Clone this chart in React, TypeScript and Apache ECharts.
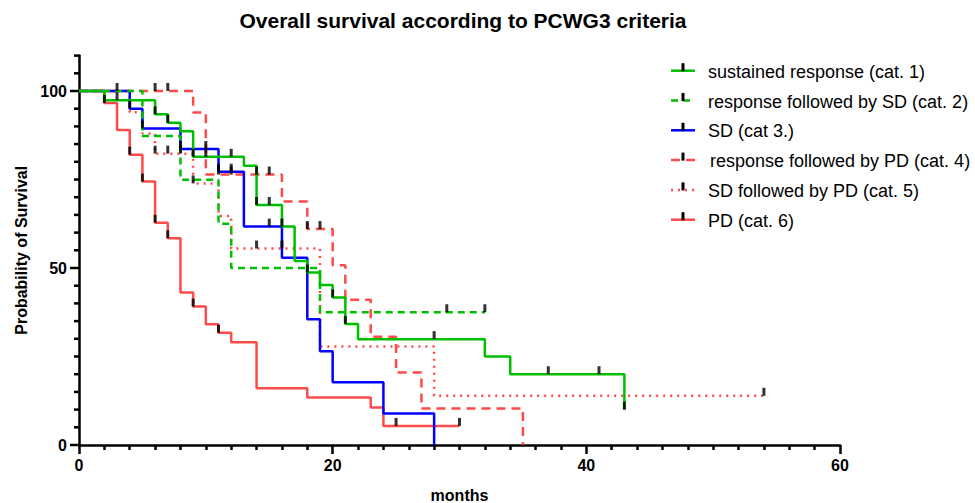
import React, { useEffect, useRef } from "react";
import * as echarts from "echarts";

const chartTitle = "Overall survival according to PCWG3 criteria";
const xAxisName = "months";
const yAxisName = "Probability of Survival";

const seriesNames = [
  "sustained response (cat. 1)",
  "response followed by SD (cat. 2)",
  "SD (cat 3.)",
  "response followed by PD (cat. 4)",
  "SD followed by PD (cat. 5)",
  "PD (cat. 6)",
];

const xTickValues = [0, 20, 40, 60];
const yTickValues = [0, 50, 100];
const yMinorTickValues = [5, 10, 15, 20, 25, 30, 35, 40, 45, 55, 60, 65, 70, 75, 80, 85, 90, 95, 105, 110];

// cat. 1 sustained response
const cat1Times = [0, 2, 6, 7, 8, 9, 13, 14, 16, 17, 18, 19, 20, 21, 22, 32, 34, 43];
const cat1Surv = [100, 97.4, 93.4, 91, 88.6, 81.4, 78.9, 67.8, 61.7, 52, 48.7, 45.2, 41.7, 34.2, 29.9, 25, 20, 10];
const cat1CensorTimes = [3, 6, 7, 9, 10, 12, 14, 15, 16, 18, 20, 21, 28, 37, 41, 43];
const cat1CensorSurv = [97.4, 93.4, 91, 81.4, 81.4, 81.4, 67.8, 67.8, 61.7, 48.7, 41.7, 34.2, 29.9, 20, 20, 10];

// cat. 2 response followed by SD
const cat2Times = [0, 5, 8, 11, 12, 19, 32];
const cat2Surv = [100, 87.3, 74.9, 62.5, 50, 37.5, 37.5];
const cat2CensorTimes = [29, 32];
const cat2CensorSurv = [37.5, 37.5];

// cat 3. SD
const cat3Times = [0, 4, 5, 8, 11, 13, 16, 18, 19, 20, 24, 28];
const cat3Surv = [100, 95, 89.4, 83.6, 77.2, 61.7, 52.9, 35.5, 26.5, 17.7, 8.9, 0];
const cat3CensorTimes = [3, 4, 5, 8, 10, 11, 12, 15];
const cat3CensorSurv = [100, 95, 89.4, 83.6, 83.6, 77.2, 77.2, 61.7];

// cat. 4 response followed by PD
const cat4Times = [0, 9, 10, 16, 18, 20, 21, 23, 25, 27, 35];
const cat4Surv = [100, 93.9, 76.4, 68.8, 61, 50.8, 41, 30.6, 20.5, 10.3, 0];
const cat4CensorTimes = [6, 7, 11, 12, 14, 15, 18, 19];
const cat4CensorSurv = [100, 100, 76.4, 76.4, 76.4, 76.4, 61, 61];

// cat. 5 SD followed by PD
const cat5Times = [0, 4, 5, 6, 9, 11, 12, 19, 28, 54];
const cat5Surv = [100, 94, 88, 82.3, 73.9, 64.7, 55.5, 27.8, 13.9, 13.9];
const cat5CensorTimes = [6, 7, 8, 9, 14, 16, 54];
const cat5CensorSurv = [82.3, 82.3, 82.3, 73.9, 55.5, 55.5, 13.9];

// cat. 6 PD
const cat6Times = [0, 2, 3, 4, 5, 6, 7, 8, 9, 10, 11, 12, 14, 18, 23, 24, 30];
const cat6Surv = [100, 96.6, 89, 82, 74.4, 62.8, 58.4, 43.1, 39.1, 34.1, 31.7, 29, 16, 13.4, 10.6, 5.4, 5.4];
const cat6CensorTimes = [2, 4, 5, 6, 7, 9, 11, 25, 30];
const cat6CensorSurv = [96.6, 82, 74.4, 62.8, 58.4, 39.1, 31.7, 5.4, 5.4];

const curveTimes = [cat1Times, cat2Times, cat3Times, cat4Times, cat5Times, cat6Times];
const curveSurv = [cat1Surv, cat2Surv, cat3Surv, cat4Surv, cat5Surv, cat6Surv];
const censorTimes = [cat1CensorTimes, cat2CensorTimes, cat3CensorTimes, cat4CensorTimes, cat5CensorTimes, cat6CensorTimes];
const censorSurv = [cat1CensorSurv, cat2CensorSurv, cat3CensorSurv, cat4CensorSurv, cat5CensorSurv, cat6CensorSurv];

const GREEN = "#00BF00";
const BLUE = "#0000FF";
const RED = "#FF4A4A";
const lineLooks: { color: string; dash: any }[] = [
  { color: GREEN, dash: "solid" },
  { color: GREEN, dash: [7, 5] },
  { color: BLUE, dash: "solid" },
  { color: RED, dash: [9, 6] },
  { color: RED, dash: [2, 5] },
  { color: RED, dash: "solid" },
];
// drawing order (lowest first)
const drawOrder = [5, 4, 3, 2, 1, 0];

const FONT = '"Liberation Sans", Arial, Helvetica, sans-serif';

export default function App() {
  const ref = useRef<HTMLDivElement>(null);

  useEffect(() => {
    if (!ref.current) return;
    const chart = echarts.init(ref.current, undefined, { renderer: "svg" });

    const series: any[] = [];
    drawOrder.forEach((i, k) => {
      series.push({
        type: "line",
        name: seriesNames[i],
        data: curveTimes[i].map((t, j) => [t, curveSurv[i][j]]),
        step: "end",
        symbol: "none",
        showSymbol: false,
        silent: true,
        z: 2 + k,
        lineStyle: {
          color: lineLooks[i].color,
          width: 2.5,
          type: lineLooks[i].dash,
          cap: "butt",
        },
      });
    });
    for (let i = 0; i < 6; i++) {
      series.push({
        type: "scatter",
        name: seriesNames[i] + " censored",
        data: censorTimes[i].map((t, j) => [t, censorSurv[i][j]]),
        symbol: "rect",
        symbolSize: [3, 8],
        symbolOffset: [0, -4],
        silent: true,
        clip: false,
        z: 20,
        itemStyle: { color: "#000" },
      });
    }

    const baseGraphics: any[] = [
      {
        type: "text",
        x: 463,
        y: 20,
        style: {
          text: chartTitle,
          font: `bold 21px ${FONT}`,
          fill: "#000",
          align: "center",
          verticalAlign: "middle",
          textAlign: "center",
          textVerticalAlign: "middle",
        },
      },
    ];
    seriesNames.forEach((name, i) => {
      const y = 70.7 + i * 29.8;
      baseGraphics.push({
        type: "line",
        shape: { x1: 671, y1: y, x2: 695, y2: y },
        style: {
          stroke: lineLooks[i].color,
          lineWidth: 2.5,
          lineDash: Array.isArray(lineLooks[i].dash) ? lineLooks[i].dash : null,
        },
      });
      baseGraphics.push({
        type: "rect",
        shape: { x: 681.5, y: y - 7.5, width: 3, height: 8 },
        style: { fill: "#000" },
      });
      baseGraphics.push({
        type: "text",
        x: i === 3 ? 710 : 708,
        y: y + 1,
        style: {
          text: name,
          font: `18px ${FONT}`,
          fill: "#000",
          align: "left",
          verticalAlign: "middle",
          textAlign: "left",
          textVerticalAlign: "middle",
        },
      });
    });

    const axisLineStyle = { color: "#000", width: 2.5 };

    chart.setOption({
      animation: false,
      backgroundColor: "#fff",
      grid: { left: 79, right: 135, top: 55.6, bottom: 58, containLabel: false, outerBoundsMode: "none" },
      xAxis: {
        type: "value",
        min: 0,
        max: 60,
        interval: 20,
        name: xAxisName,
        nameLocation: "middle",
        nameGap: 42,
        nameTextStyle: { fontFamily: FONT, fontWeight: "bold", fontSize: 16, color: "#000" },
        axisLine: { show: true, lineStyle: axisLineStyle },
        axisTick: { show: true, length: 9, lineStyle: axisLineStyle },
        minorTick: { show: true, splitNumber: 10, length: 5, lineStyle: { color: "#000", width: 2.5 } },
        axisLabel: {
          fontFamily: FONT,
          fontWeight: "bold",
          fontSize: 16,
          color: "#000",
          margin: 12,
          customValues: xTickValues,
        },
        splitLine: { show: false },
        minorSplitLine: { show: false },
      },
      yAxis: {
        type: "value",
        min: 0,
        max: 110,
        interval: 5,
        name: yAxisName,
        nameLocation: "middle",
        nameGap: 45,
        nameTextStyle: { fontFamily: FONT, fontWeight: "bold", fontSize: 16, color: "#000" },
        axisLine: { show: true, lineStyle: axisLineStyle },
        axisTick: { show: false },
        axisLabel: {
          fontFamily: FONT,
          fontWeight: "bold",
          fontSize: 16,
          color: "#000",
          margin: 12,
          formatter: (v: number) => (yTickValues.indexOf(v) >= 0 ? String(v) : ""),
        },
        splitLine: { show: false },
      },
      series,
      graphic: baseGraphics,
    });

    // y-axis ticks positioned through the chart's own scale
    const tickGraphics: any[] = [];
    const addTick = (v: number, len: number) => {
      const p = chart.convertToPixel({ gridIndex: 0 }, [0, v]) as number[];
      if (!p || isNaN(p[0]) || isNaN(p[1])) return;
      tickGraphics.push({
        type: "line",
        z: 100,
        shape: { x1: p[0] - len, y1: p[1], x2: p[0], y2: p[1] },
        style: { stroke: "#000", lineWidth: 2.5 },
      });
    };
    yTickValues.forEach((v) => addTick(v, 9));
    yMinorTickValues.forEach((v) => addTick(v, 5));
    chart.setOption({ graphic: [...baseGraphics, ...tickGraphics] });

    return () => chart.dispose();
  }, []);

  return (
    <div
      ref={ref}
      style={{ position: "fixed", left: 0, top: 0, width: 975, height: 503, background: "#fff" }}
    />
  );
}
